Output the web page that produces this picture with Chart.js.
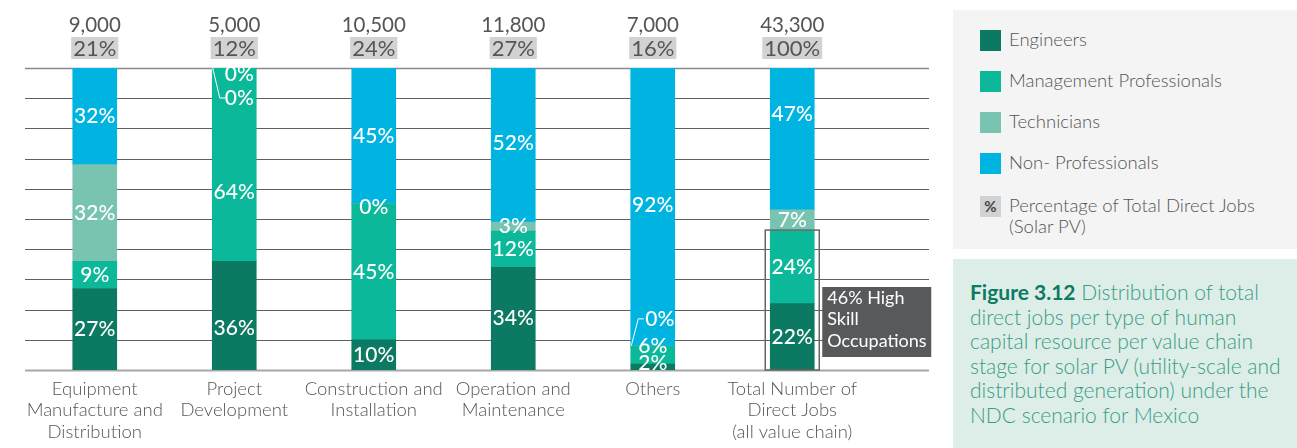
<!DOCTYPE html>
<html>
<head>
<meta charset="utf-8">
<script src="https://cdn.jsdelivr.net/npm/chart.js@4.4.1/dist/chart.umd.min.js"></script>
<style>
  body { margin: 0; background: #fff; font-family: Lato, sans-serif; }
  #wrap { position: relative; width: 1297px; height: 448px; overflow: hidden; }
  #chartBox { position: absolute; left: 0; top: 0; width: 940px; height: 448px; }
  #legend { position: absolute; left: 953px; top: 10px; width: 344px; height: 239px; background: #f4f4f4; }
  .item { position: absolute; left: 27px; font-size: 18.5px; font-weight: 300; color: #555; line-height: 21px; }
  .sw { position: absolute; left: 0; top: 0; width: 21px; height: 21px; }
  .lbl { position: absolute; left: 29px; top: -1px; white-space: nowrap; }
  .pct { background: #d1d2d4; color: #444; font-weight: 700; font-size: 15px; text-align: center; line-height: 21px; }
  #caption { position: absolute; left: 953px; top: 259px; width: 344px; height: 189px; background: #ddeee9;
    color: #3a9c84; font-size: 21px; font-weight: 300; line-height: 24.5px; white-space: nowrap; box-sizing: border-box; padding: 21px 0 0 17px; }
  #caption b { color: #0d7a62; font-weight: 700; }
</style>
</head>
<body>
<div id="wrap">
  <div id="chartBox"><canvas id="myChart"></canvas></div>
  <div id="legend"></div>
  <div id="caption"><b>Figure 3.12</b> Distribution of total<br>direct jobs per type of human<br>capital resource per value chain<br>stage for solar PV (utility-scale and<br>distributed generation) under the<br>NDC scenario for Mexico</div>
</div>
<script>
// datos del grafico
const categorias = [
  ["Equipment", "Manufacture and", "Distribution"],
  ["Project", "Development"],
  ["Construction and", "Installation"],
  ["Operation and", "Maintenance"],
  ["Others"],
  ["Total Number of", "Direct Jobs", "(all value chain)"]
];
const engineers = [27, 36, 10, 34, 2, 22];
const management = [9, 64, 45, 12, 6, 24];
const technicians = [32, 0, 0, 3, 0, 7];
const nonProfessionals = [32, 0, 45, 52, 92, 47];
const totalJobs = [9000, 5000, 10500, 11800, 7000, 43300];
const shareOfTotal = [21, 12, 24, 27, 16, 100];
const yTicks = [0, 10, 20, 30, 40, 50, 60, 70, 80, 90, 100];

const seriesNames = ["Engineers", "Management Professionals", "Technicians", "Non- Professionals"];
const colori = ["#0c7a62", "#0bb899", "#79c4b1", "#00b4e2"];

// ajustes de las etiquetas (px) "dataset-indice"
const nudges = {
  "0-1": { dy: 13 },
  "1-1": { dy: 28 },
  "2-1": { dy: 30, dx: 5, leader: true },
  "3-1": { dy: 6, dx: 5 },
  "2-2": { dy: 3 },
  "0-4": { dy: -4 },
  "1-4": { dy: -9 },
  "2-4": { dy: -27, dx: 7, leader: true },
  "3-4": { dy: -2 },
  "3-5": { dy: -25 }
};

// leyenda
const legend = document.getElementById("legend");
seriesNames.forEach((name, i) => {
  const it = document.createElement("div");
  it.className = "item";
  it.style.top = 20 + 41 * i + "px";
  it.innerHTML = `<div class="sw" style="background:${colori[i]}"></div><div class="lbl">${name}</div>`;
  legend.appendChild(it);
});
const itPct = document.createElement("div");
itPct.className = "item";
itPct.style.top = 20 + 41 * 4 + 2 + "px";
itPct.innerHTML = `<div class="sw pct">%</div><div class="lbl">Percentage of Total Direct Jobs<br>(Solar PV)</div>`;
legend.appendChild(itPct);

const gridPlugin = {
  id: "gridExt",
  beforeDatasetsDraw(chart) {
    const { ctx, chartArea, scales } = chart;
    ctx.save();
    yTicks.forEach((v) => {
      const y = Math.round(scales.y.getPixelForValue(v)) + 0.5;
      ctx.beginPath();
      if (v === 0) { ctx.strokeStyle = "#a8a8a8"; ctx.lineWidth = 2; }
      else if (v === 100) { ctx.strokeStyle = "#8a8a8a"; ctx.lineWidth = 1.5; }
      else { ctx.strokeStyle = "#5f5f5f"; ctx.lineWidth = 1; }
      ctx.moveTo(chartArea.left, y);
      ctx.lineTo(929, y);
      ctx.stroke();
    });
    ctx.restore();
  }
};

const labelPlugin = {
  id: "segLabels",
  afterDatasetsDraw(chart) {
    const { ctx, chartArea, scales } = chart;
    const x = scales.x, y = scales.y;
    ctx.save();
    ctx.textAlign = "center";
    ctx.textBaseline = "middle";

    // etiquetas de los segmentos
    chart.data.datasets.forEach((ds, d) => {
      ds.data.forEach((v, i) => {
        let base = 0;
        for (let k = 0; k < d; k++) base += chart.data.datasets[k].data[i];
        if (v === 0 && !nudges[d + "-" + i] && !(d === 2 && i === 2)) return;
        const n = nudges[d + "-" + i] || {};
        const cx = x.getPixelForValue(i);
        const cy = y.getPixelForValue(Math.min(base + v / 2, 100));
        const ly = cy + (n.dy || 0);
        const lx = cx + (n.dx || 0);
        if (n.leader) {
          const left = cx - 22;
          ctx.beginPath();
          ctx.strokeStyle = "#ffffff";
          ctx.lineWidth = 1;
          ctx.moveTo(left + 0.5, cy);
          ctx.lineTo(left + 7.5, ly);
          ctx.lineTo(left + 13, ly);
          ctx.stroke();
        }
        ctx.fillStyle = "#ffffff";
        ctx.font = "500 21px Lato";
        ctx.fillText(v + "%", lx, ly);
      });
    });

    // totales arriba
    totalJobs.forEach((t, i) => {
      const cx = x.getPixelForValue(i);
      ctx.fillStyle = "#555555";
      ctx.font = "400 20.5px Lato";
      ctx.fillText(t.toLocaleString("en-US"), cx, chartArea.top - 43);
      ctx.font = "400 22px Lato";
      const txt = shareOfTotal[i] + "%";
      const w = Math.max(44, ctx.measureText(txt).width + 4);
      ctx.fillStyle = "#d1d2d4";
      ctx.fillRect(cx - w / 2, chartArea.top - 31, w, 22);
      ctx.fillStyle = "#555555";
      ctx.fillText(txt, cx, chartArea.top - 19);
    });

    // caja de alta calificacion
    const tx = x.getPixelForValue(5);
    const topY = y.getPixelForValue(engineers[5] + management[5]);
    const botY = y.getPixelForValue(0);
    ctx.strokeStyle = "#666666";
    ctx.lineWidth = 1.5;
    ctx.strokeRect(tx - 27, topY - 1, 54, botY - topY + 1);
    ctx.fillStyle = "#58595b";
    ctx.fillRect(tx + 30, botY - 83, 109, 70);
    ctx.fillStyle = "#ffffff";
    ctx.textAlign = "left";
    ctx.font = "400 18px Lato";
    ["46% High", "Skill", "Occupations"].forEach((s, k) => {
      ctx.fillText(s, tx + 35, botY - 72 + k * 21.5);
    });
    ctx.restore();
  }
};

const ctx = document.getElementById("myChart").getContext("2d");
new Chart(ctx, {
  type: "bar",
  data: {
    labels: categorias,
    datasets: [engineers, management, technicians, nonProfessionals].map((arr, k) => ({
      label: seriesNames[k],
      data: arr,
      backgroundColor: colori[k],
      borderWidth: 0,
      barThickness: 44
    }))
  },
  options: {
    responsive: true,
    maintainAspectRatio: false,
    animation: false,
    layout: { padding: { top: 68, left: 25, right: 78, bottom: 0 } },
    plugins: { legend: { display: false }, tooltip: { enabled: false } },
    scales: {
      x: {
        stacked: true,
        grid: { display: false },
        border: { display: false },
        ticks: {
          color: "#555555",
          font: { family: "Lato", size: 18.5, weight: 300, lineHeight: 1.16 },
          padding: 0,
          maxRotation: 0,
          autoSkip: false
        },
        afterFit(scale) { scale.height = 78; }
      },
      y: {
        stacked: true,
        display: false,
        min: 0,
        max: 100
      }
    }
  },
  plugins: [gridPlugin, labelPlugin]
});
</script>
</body>
</html>
